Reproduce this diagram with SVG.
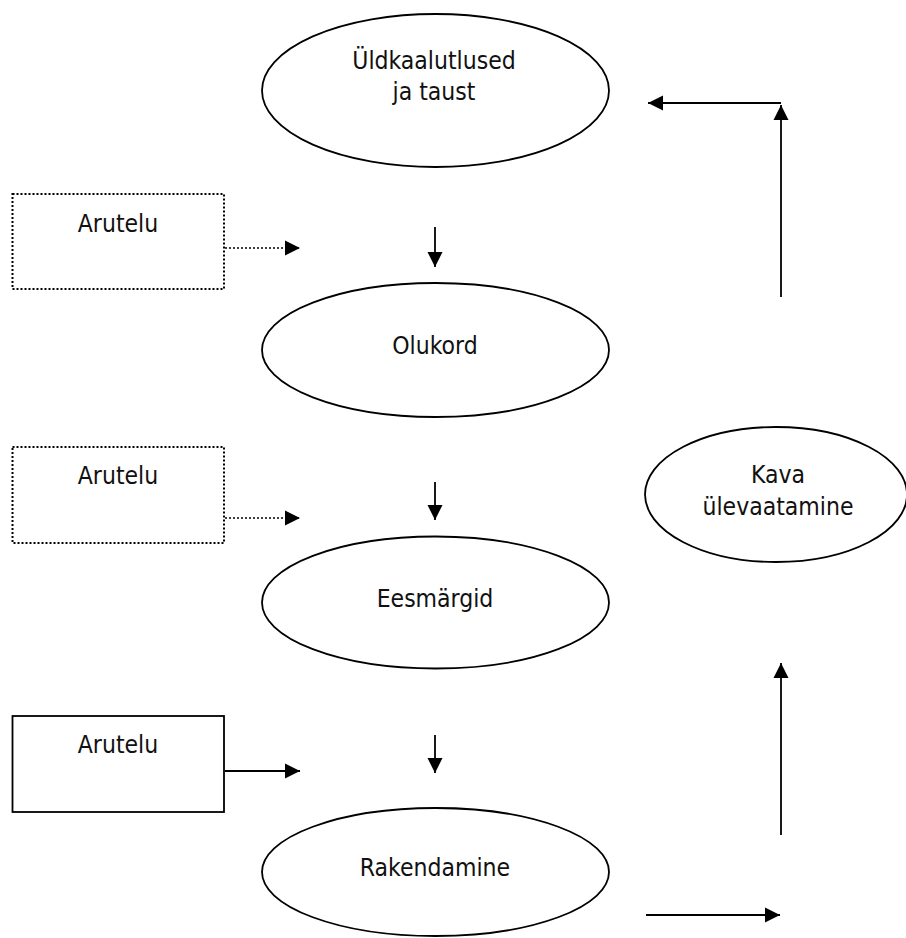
<svg xmlns="http://www.w3.org/2000/svg" width="906" height="938" viewBox="0 0 906 938">
<style>
  .node ellipse { fill: #fff; stroke: #000; stroke-width: 1.8; }
  .box rect { fill: #fff; stroke: #000; stroke-width: 1.8; }
  .box.dotted rect { stroke-dasharray: 2 2; stroke-width: 2; }
  text { font-family: "DejaVu Sans Condensed", "DejaVu Sans", Verdana, sans-serif; font-stretch: condensed; font-size: 24.5px; fill: #111; text-anchor: middle; }
  .conn { stroke: #000; stroke-width: 1.8; fill: none; marker-end: url(#arrow); }
  .conn.dotted { stroke-dasharray: 2 2; stroke-width: 1.6; }
</style>
<defs>
  <marker id="arrow" markerUnits="userSpaceOnUse" markerWidth="16" markerHeight="16" refX="15" refY="8" orient="auto">
    <path d="M0,0.5 L15,8 L0,15.5 Z" fill="#000"/>
  </marker>
</defs>
<rect width="906" height="938" fill="#fff"/>

<g id="n-yldkaalutlused" class="node">
  <ellipse cx="435.5" cy="90.5" rx="173.5" ry="76.5"/>
  <text x="434" y="69">Üldkaalutlused</text>
  <text x="434" y="100">ja taust</text>
</g>
<g id="n-olukord" class="node">
  <ellipse cx="435.5" cy="350" rx="173.5" ry="67"/>
  <text x="435" y="354">Olukord</text>
</g>
<g id="n-eesmargid" class="node">
  <ellipse cx="435.5" cy="602.5" rx="173.5" ry="66"/>
  <text x="435" y="607">Eesmärgid</text>
</g>
<g id="n-rakendamine" class="node">
  <ellipse cx="435.5" cy="872" rx="173.5" ry="64"/>
  <text x="435" y="876">Rakendamine</text>
</g>
<g id="n-kava" class="node">
  <ellipse cx="776" cy="494.5" rx="131" ry="67.5"/>
  <text x="778" y="483">Kava</text>
  <text x="778" y="515">ülevaatamine</text>
</g>

<g id="b-arutelu1" class="box dotted">
  <rect x="12.5" y="194" width="211.5" height="95"/>
  <text x="118" y="232">Arutelu</text>
</g>
<g id="b-arutelu2" class="box dotted">
  <rect x="12.5" y="447" width="211.5" height="96"/>
  <text x="118" y="484">Arutelu</text>
</g>
<g id="b-arutelu3" class="box">
  <rect x="12.5" y="716" width="211.5" height="96"/>
  <text x="118" y="753">Arutelu</text>
</g>

<g id="connectors">
  <line class="conn dotted" x1="225" y1="248" x2="300" y2="248"/>
  <line class="conn dotted" x1="225" y1="518" x2="300" y2="518"/>
  <line class="conn" x1="225" y1="771" x2="300" y2="771"/>
  <line class="conn" x1="435" y1="227" x2="435" y2="267"/>
  <line class="conn" x1="435" y1="482" x2="435" y2="520"/>
  <line class="conn" x1="435" y1="735" x2="435" y2="773"/>
  <line class="conn" x1="646" y1="915" x2="780" y2="915"/>
  <line class="conn" x1="781" y1="835" x2="781" y2="663"/>
  <line class="conn" x1="781" y1="297" x2="781" y2="105"/>
  <line class="conn" x1="781" y1="103" x2="648" y2="103"/>
</g>
</svg>
